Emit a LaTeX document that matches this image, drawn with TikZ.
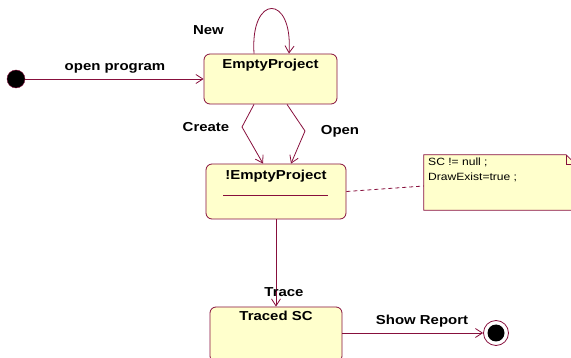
\documentclass[tikz,border=0pt]{standalone}
\usepackage{fontspec}
\setmainfont{Liberation Sans}[FakeStretch=1.15]
\usetikzlibrary{arrows.meta}
\definecolor{edge}{RGB}{135,15,60}
\definecolor{statefill}{RGB}{255,255,204}
\tikzset{
  state/.style={draw=edge, fill=statefill, rounded corners=6pt, line width=0.8pt, inner sep=0pt},
  title/.style={font=\fontsize{13}{15}\selectfont\bfseries, inner sep=0pt, anchor=north},
  lbl/.style={font=\fontsize{13}{15}\selectfont\bfseries, inner sep=0pt},
  trans/.style={draw=edge, line width=0.8pt, -{Straight Barb[length=7pt,width=9pt]}},
  notebox/.style={draw=edge, fill=statefill, line width=0.8pt},
  notetext/.style={font=\fontsize{10.5}{15}\selectfont, inner sep=0pt, align=left, anchor=north west},
}
\begin{document}
\begin{tikzpicture}[x=1pt, y=-1pt]
\useasboundingbox (0,0) rectangle (571,358);

% states
\node[state, minimum width=133pt, minimum height=50pt] (ep) at (270.5,79) {};
\node[title] (eptitle) at ([yshift=-5pt]ep.north) {EmptyProject};

\node[state, minimum width=140pt, minimum height=55pt] (nep) at (276,191.5) {};
\node[title] (neptitle) at ([yshift=-6pt]nep.north) {!EmptyProject};
\draw[edge, line width=0.8pt] (223,195) -- (328,195);

\node[state, minimum width=132pt, minimum height=55pt] (ts) at (276,334.5) {};
\node[title] (tstitle) at ([yshift=-4pt]ts.north) {Traced SC};

% pseudo states
\node[circle, fill=black, draw=edge, minimum size=18pt, inner sep=0pt] (init) at (16,79) {};
\node[circle, fill=white, draw=edge, line width=0.8pt, minimum size=25pt, inner sep=0pt] (fin) at (496,333) {};
\node[circle, fill=black, minimum size=17pt, inner sep=0pt] (fincore) at (fin) {};

% note attached to !EmptyProject
\node[minimum width=152pt, minimum height=55pt, inner sep=0pt] (note) at (500,182.5) {};
\draw[notebox] (note.north west) -- ([xshift=-10pt]note.north east)
  -- ([yshift=-10pt]note.north east) -- (note.south east) -- (note.south west) -- cycle;
\draw[edge, line width=0.8pt] ([xshift=-10pt]note.north east) |- ([yshift=-10pt]note.north east);
\node[notetext] (notebody) at (428,158) {SC != null ;\\DrawExist=true ;};
\draw[edge, line width=0.8pt, dashed, dash pattern=on 4pt off 3pt] (nep.east) -- ([yshift=-3.5pt]note.west);

% transitions
\draw[trans] (init) -- (ep.west |- init);
\draw[trans] ([xshift=-16.5pt]ep.north) .. controls +(-4,-60) and +(4,-60) .. ([xshift=18.5pt]ep.north);
\coordinate (cbend) at (242,127);
\coordinate (obend) at (305,131);
\draw[trans] ([xshift=-16.5pt]ep.south) -- (cbend) -- ([xshift=-13pt]nep.north);
\draw[trans] ([xshift=16.5pt]ep.south) -- (obend) -- ([xshift=15pt]nep.north);
\draw[trans] (nep.south) -- (ts.north);
\draw[trans] (ts.east |- fin) -- (fin.west);

% transition labels
\node[lbl] (lopen) at (115,68) {open program};
\node[lbl] (lnew) at (208.5,30) {New};
\node[lbl] (lcreate) at (206,127) {Create};
\node[lbl] (lopenp) at (340,131) {Open};
\node[lbl] (ltrace) at (284,292) {Trace};
\node[lbl] (lshow) at (422,321) {Show Report};
\end{tikzpicture}
\end{document}
